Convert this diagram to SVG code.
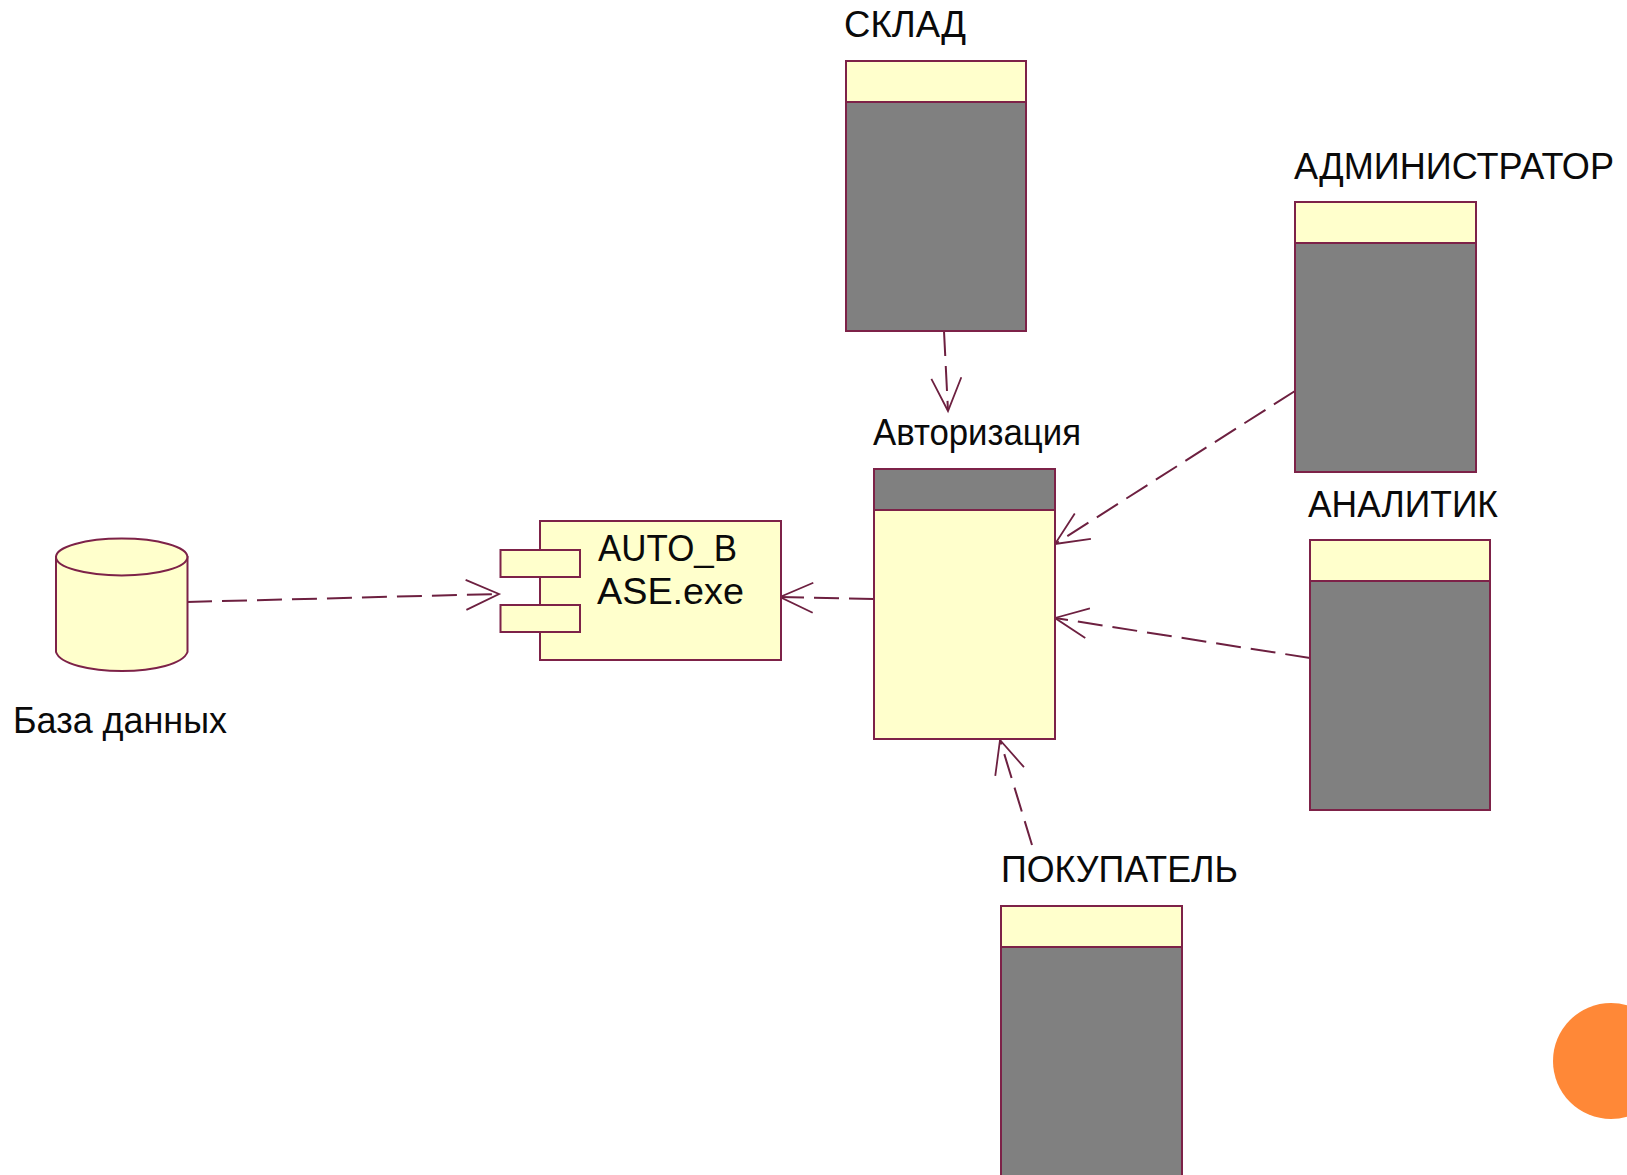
<svg xmlns="http://www.w3.org/2000/svg" width="1627" height="1175" viewBox="0 0 1627 1175">
<style>
.b{stroke:#7d2248;stroke-width:2}
.y{fill:#ffffcc}
.g{fill:#808080}
.t{font-family:"Liberation Sans",Arial,sans-serif;font-size:36px;fill:#0a0a0a}
.c{fill:none;stroke:#6d2040;stroke-width:2;stroke-dasharray:25 10;marker-end:url(#vee)}
</style>
<defs>
<marker id="vee" markerUnits="userSpaceOnUse" markerWidth="44" markerHeight="40" refX="36" refY="20" orient="auto" overflow="visible">
<path d="M3 5 L36 20 L3 35" fill="none" stroke="#6d2040" stroke-width="1.8"/>
</marker>
</defs>
<rect width="1627" height="1175" fill="#ffffff"/>
<g id="connectors">
<path class="c" d="M187 602 L499 594"/>
<path class="c" d="M874 599 L780 597"/>
<path class="c" d="M944 331 L948 411"/>
<path class="c" d="M1295 391 L1055 544"/>
<path class="c" d="M1310 658 L1055 618"/>
<path class="c" d="M1032 845 L1000 740"/>
</g>
<g id="database">
<path class="b y" d="M56 557 V652 C60 664 90 671 122 671 C154 671 183 664 187.500 652 V557 Z"/>
<ellipse class="b y" cx="121.700" cy="557" rx="65.700" ry="18.500"/>
<text class="t" x="13" y="733" textLength="214" lengthAdjust="spacingAndGlyphs">База данных</text>
</g>
<g id="component">
<rect class="b y" x="540" y="521" width="241" height="139"/>
<rect class="b y" x="500.500" y="550" width="79.500" height="27"/>
<rect class="b y" x="500.500" y="605" width="79.500" height="27"/>
<text class="t" x="598" y="561" textLength="139" lengthAdjust="spacingAndGlyphs">AUTO_B</text>
<text class="t" x="597" y="604" textLength="147" lengthAdjust="spacingAndGlyphs">ASE.exe</text>
</g>
<g id="sklad">
<text class="t" x="844" y="37" textLength="122" lengthAdjust="spacingAndGlyphs">СКЛАД</text>
<rect class="b y" x="846" y="61" width="180" height="41"/>
<rect class="b g" x="846" y="102" width="180" height="229"/>
</g>
<g id="administrator">
<text class="t" x="1294" y="179" textLength="320" lengthAdjust="spacingAndGlyphs">АДМИНИСТРАТОР</text>
<rect class="b y" x="1295" y="202" width="181" height="41"/>
<rect class="b g" x="1295" y="243" width="181" height="229"/>
</g>
<g id="avtorizatsiya">
<text class="t" x="873" y="445" textLength="208" lengthAdjust="spacingAndGlyphs">Авторизация</text>
<rect class="b g" x="874" y="469" width="181" height="41"/>
<rect class="b y" x="874" y="510" width="181" height="229"/>
</g>
<g id="analitik">
<text class="t" x="1308" y="517" textLength="190" lengthAdjust="spacingAndGlyphs">АНАЛИТИК</text>
<rect class="b y" x="1310" y="540" width="180" height="41"/>
<rect class="b g" x="1310" y="581" width="180" height="229"/>
</g>
<g id="pokupatel">
<text class="t" x="1001" y="882" textLength="237" lengthAdjust="spacingAndGlyphs">ПОКУПАТЕЛЬ</text>
<rect class="b y" x="1001" y="906" width="181" height="41"/>
<rect class="b g" x="1001" y="947" width="181" height="229"/>
</g>
<circle id="corner-circle" cx="1611" cy="1061" r="58" fill="#ff8837"/>
</svg>
